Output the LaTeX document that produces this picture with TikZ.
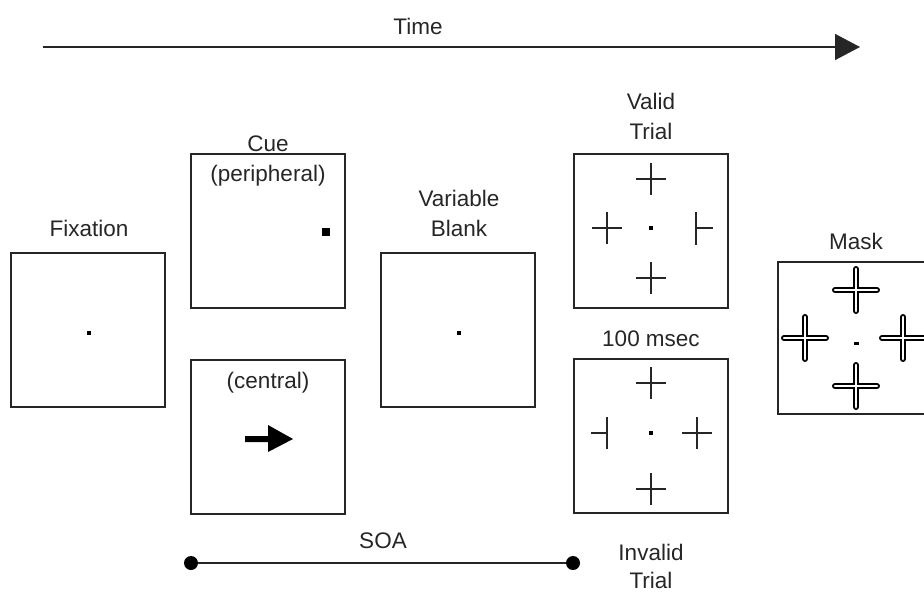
\documentclass[tikz,border=0pt]{standalone}
\usepackage{fontspec}
\setmainfont{Liberation Sans}
\usetikzlibrary{arrows.meta}
\begin{document}
\begin{tikzpicture}[x=1pt,y=-1pt,
  screen/.style={draw=black!85,line width=1.8pt,minimum size=154pt,inner sep=0pt},
  lbl/.style={font=\fontsize{22.5}{26}\selectfont,text=black!85,inner sep=0pt},
  fixdot/.style={fill=black,minimum size=3.5pt,inner sep=0pt},
  endpt/.style={circle,fill=black,minimum size=14pt,inner sep=0pt},
  stroke/.style={line width=1.8pt,black!85},
  pics/plus/.style={code={
    \draw[stroke] (-15,0) -- (15,0) (0,-16) -- (0,16);}},
  pics/hollowplus/.style={code={
    \draw[line width=6pt,black,line cap=round] (-21,0) -- (21,0) (0,-21) -- (0,21);
    \draw[line width=2.8pt,white,line cap=round] (-21,0) -- (21,0) (0,-21) -- (0,21);}}
]
\useasboundingbox (0,0) rectangle (924,592);

% time axis
\node[lbl] (time) at (418,26) {Time};
\coordinate (t0) at (43,47);
\coordinate (t1) at (860,47);
\draw[line width=1.5pt,black!85,-{Triangle[length=25pt,width=26pt]}] (t0) -- (t1);

% fixation screen
\node[lbl] (fixlbl) at (89,228) {Fixation};
\node[screen] (fix) at (88,330) {};
\node[fixdot] (fixd) at (89,333) {};

% peripheral cue
\node[lbl] (cuelbl) at (268,144) {Cue};
\node[screen] (cuep) at (268,231) {};
\node[lbl,anchor=north] (perlbl) at (268,165) {(peripheral)};
\node[fill=black,minimum size=8pt,inner sep=0pt] (cuesq) at (326,232) {};

% central cue
\node[screen] (cuec) at (268,437) {};
\node[lbl,anchor=north] (cenlbl) at (268,372) {(central)};
\fill[black] (245,436) -- (268,436) -- (268,425) -- (293,439) -- (268,452) -- (268,442) -- (245,442) -- cycle;

% variable blank
\node[lbl] (varlbl) at (459,198) {Variable};
\node[lbl] (blanklbl) at (459,228) {Blank};
\node[screen] (blank) at (458,330) {};
\node[fixdot] (blankd) at (459,333) {};

% valid trial
\node[lbl] (validlbl) at (651,101) {Valid};
\node[lbl] (validlbl2) at (651,131) {Trial};
\node[screen] (valid) at (651,231) {};
\node[fixdot] (validd) at (651,228) {};
\pic at (651,179) {plus};
\pic at (607,228) {plus};
\pic at (651,278) {plus};
\draw[stroke] (696,212) -- (696,245) (696,228) -- (713,228);

% invalid trial
\node[lbl] (msec) at (651,339) {100 msec};
\node[screen] (invalid) at (651,436) {};
\node[fixdot] (invalidd) at (651,433) {};
\pic at (651,383) {plus};
\pic at (697,433) {plus};
\pic at (651,489) {plus};
\draw[stroke] (607,417) -- (607,449) (607,433) -- (591,433);
\node[lbl] (invlbl) at (651,552) {Invalid};
\node[lbl] (invlbl2) at (651,580) {Trial};

% mask
\node[lbl] (masklbl) at (856,241) {Mask};
\node[draw=black!85,line width=1.8pt,minimum width=160pt,minimum height=152pt,inner sep=0pt] (mask) at (858,338) {};
\node[fill=black,minimum width=5pt,minimum height=3pt,inner sep=0pt] (maskd) at (856,343) {};
\pic at (856,290) {hollowplus};
\pic at (805,338) {hollowplus};
\pic at (903,338) {hollowplus};
\pic at (856,386) {hollowplus};

% stimulus onset asynchrony
\node[lbl] (soa) at (383,541) {SOA};
\node[endpt] (s0) at (191,563) {};
\node[endpt] (s1) at (573,563) {};
\draw[line width=1.8pt,black!85] (s0) -- (s1);
\end{tikzpicture}
\end{document}
